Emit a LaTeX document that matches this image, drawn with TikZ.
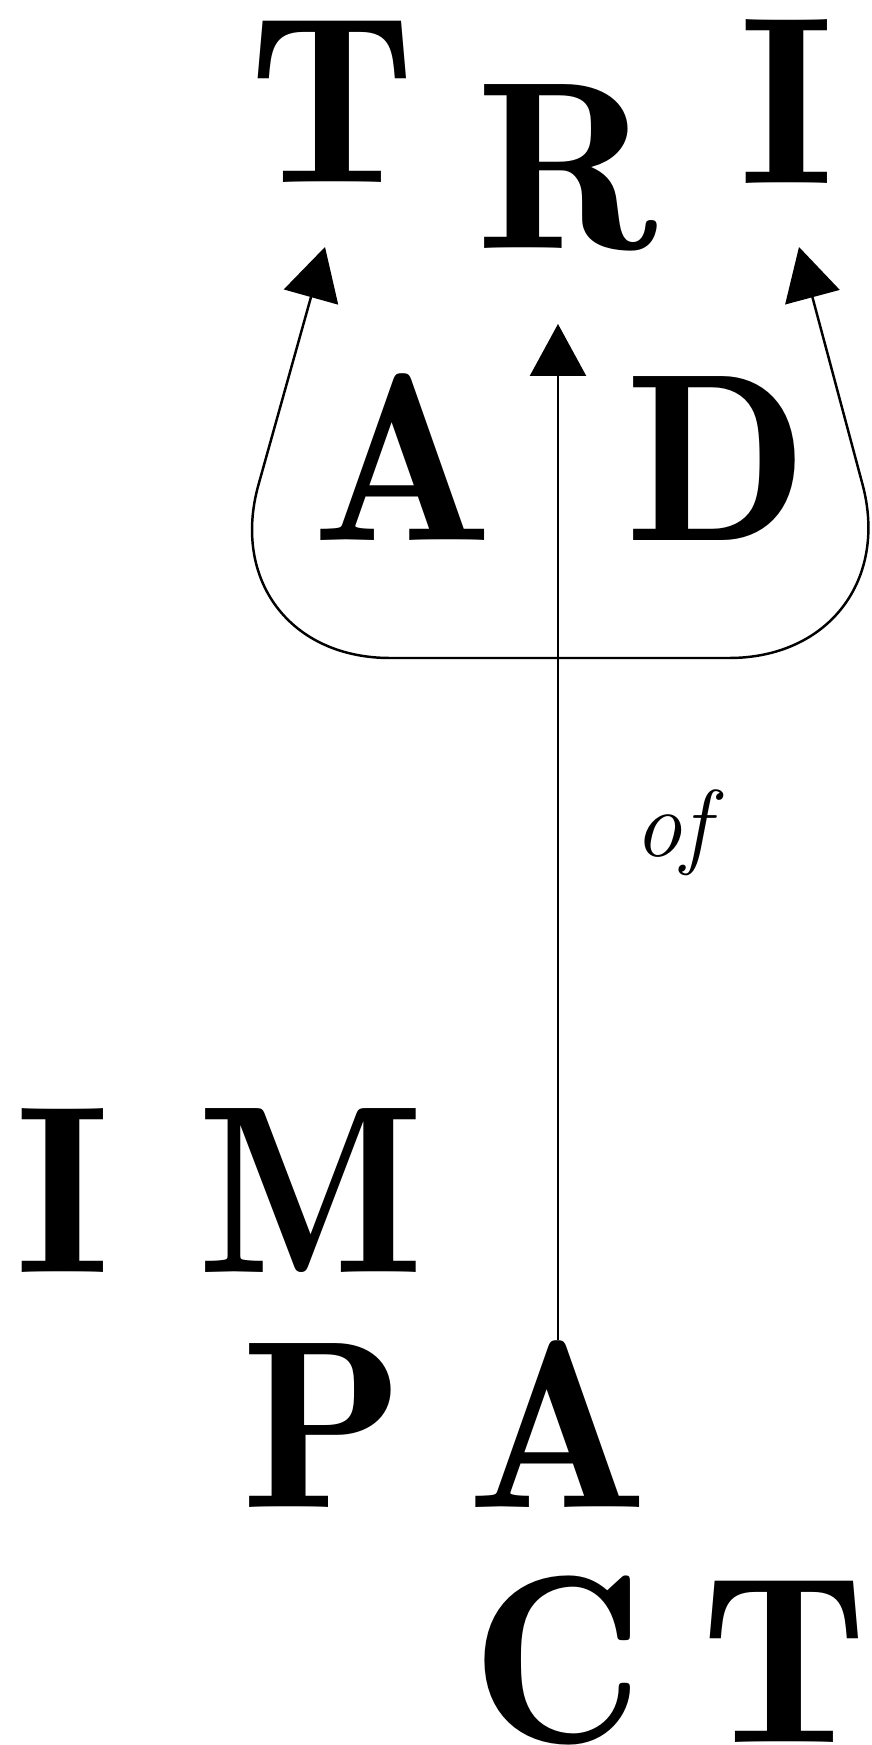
\documentclass[tikz,border=0pt]{standalone}
\usepackage{fontspec}
\newfontfamily\demifont{lmromandemi10-regular.otf}
\usetikzlibrary{arrows.meta}

\begin{document}
\begin{tikzpicture}[
  letter/.style={inner sep=0pt,anchor=base,font=\fontsize{68}{80}\selectfont\demifont},
  joiner/.style={inner sep=0pt,anchor=base,font=\fontsize{27}{32}\selectfont\itshape},
  rise/.style={-{Triangle[length=5.2mm,width=5.6mm]},line width=0.7pt,rounded corners=1.8cm}
]
  \useasboundingbox (0,0) rectangle (8.72,17.45);

  \node[letter] (trT) at (3.32,15.62) {T};
  \node[letter] (trR) at (5.67,14.96) {R};
  \node[letter] (trI) at (7.87,15.61) {I};
  \node[letter] (adA) at (4.03,12.04) {A};
  \node[letter] (adD) at (7.17,12.04) {D};
  \node[joiner] (ofLbl) at (6.72,8.88) {of};
  \node[letter] (imI) at (0.63,4.72) {I};
  \node[letter] (imM) at (3.11,4.72) {M};
  \node[letter] (paP) at (3.23,2.37) {P};
  \node[letter] (paA) at (5.58,2.37) {A};
  \node[letter] (ctC) at (5.58,0.02) {C};
  \node[letter] (ctT) at (7.84,0.02) {T};

  \coordinate (fork) at (paA.north |- 0,10.87);
  \coordinate (bendL) at (2.10,10.87);
  \coordinate (bendR) at (9.09,10.87);
  \coordinate (tipT) at (3.25,14.98);
  \coordinate (tipR) at (paA.north |- 0,14.21);
  \coordinate (tipI) at (7.99,14.98);

  \draw[rise] (paA.north) -- (tipR);
  \draw[rise] (fork) -- (bendL) -- (tipT);
  \draw[rise] (fork) -- (bendR) -- (tipI);
\end{tikzpicture}
\end{document}
